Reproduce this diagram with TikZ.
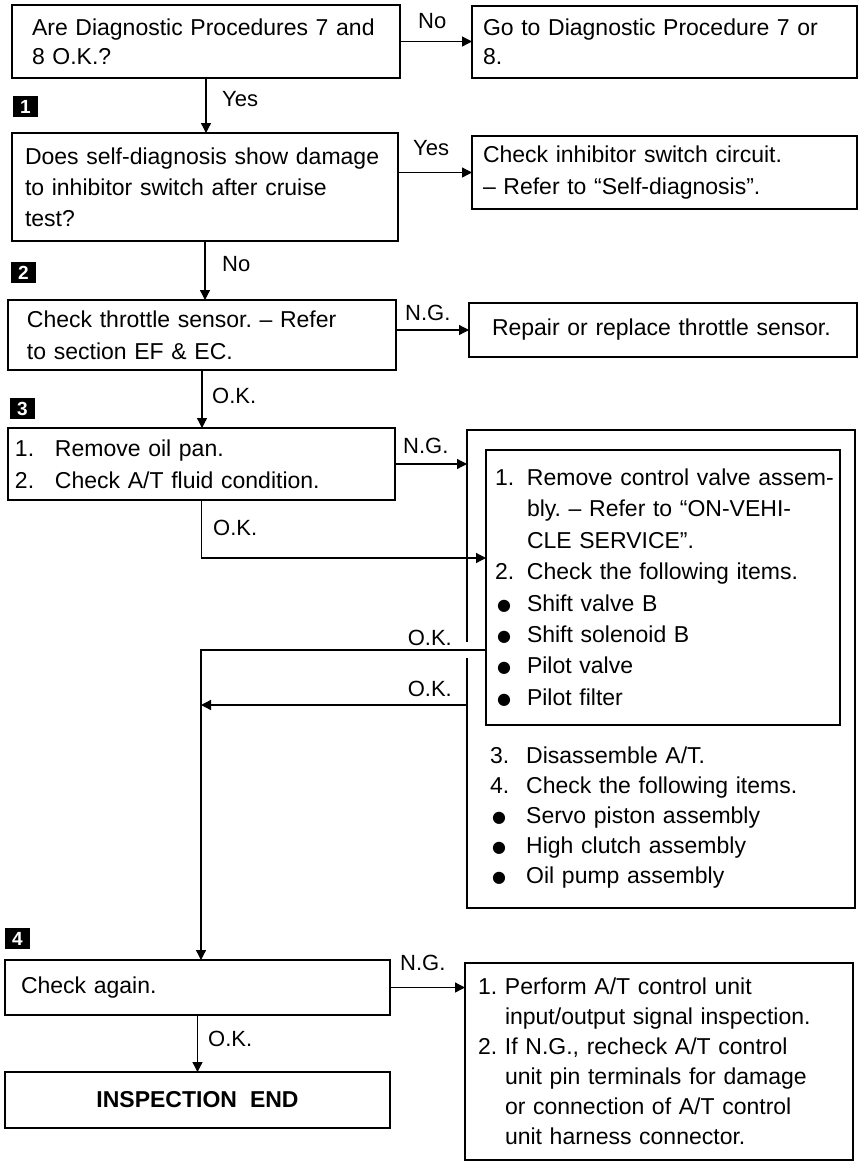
\documentclass[tikz,border=0pt]{standalone}
\usepackage{fontspec}
\setmainfont{Liberation Sans}
\newfontfamily\sym{DejaVu Sans}
\usetikzlibrary{arrows.meta}
\frenchspacing
\newlength\hw
\newcommand\nm[1]{\makebox[\hw][l]{#1}}
\newcommand\hg{\hspace*{\hw}}
\newcommand\bl{\makebox[\hw][l]{\hspace*{2pt}\raisebox{1pt}{\sym\fontsize{16}{16}\selectfont ●}}}
\begin{document}
\begin{tikzpicture}[x=1pt,y=-1pt,
  box/.style={draw, line width=1.4pt, inner ysep=0pt, outer sep=0pt, anchor=north west, align=left, font=\fontsize{23}{31}\selectfont},
  stepmark/.style={fill=black, text=white, font=\bfseries\fontsize{19}{19}\selectfont, minimum width=25, minimum height=21, inner sep=0pt, outer sep=0pt, anchor=north west},
  lbl/.style={font=\fontsize{22}{22}\selectfont, inner sep=0pt, anchor=base west},
  arr/.style={line width=1.3pt, -{Triangle[length=10pt,width=10pt]}},
  frame/.style={line width=1.4pt}]

\path[use as bounding box, fill=white] (0,0) rectangle (858,1168);

% boxes
\node[box, minimum width=388, minimum height=73, inner xsep=20, text width=348, font=\fontsize{23}{29}\selectfont] (A) at (12,5) {Are Diagnostic Procedures 7 and\\8 O.K.?};
\node[box, minimum width=385, minimum height=72, inner xsep=11, text width=363, font=\fontsize{23}{29}\selectfont] (B) at (472,6) {Go to Diagnostic Procedure 7 or\\8.};
\node[box, minimum width=386, minimum height=108, inner xsep=13, text width=360] (C) at (12,133) {Does self-diagnosis show damage\\to inhibitor switch after cruise\\test?};
\node[box, minimum width=385, minimum height=73, inner xsep=11, text width=363, font=\fontsize{23}{32}\selectfont] (D) at (472,136) {Check inhibitor switch circuit.\\– Refer to “Self-diagnosis”.};
\node[box, minimum width=388, minimum height=70, inner xsep=19, text width=350, font=\fontsize{23}{32}\selectfont] (E) at (8,300) {Check throttle sensor. – Refer\\to section EF \& EC.};
\node[box, minimum width=388, minimum height=54, inner xsep=23, text width=342] (F) at (469,303) {Repair or replace throttle sensor.};
\node[box, minimum width=387, minimum height=72, inner xsep=7, text width=373, font=\fontsize{23}{32}\selectfont] (G) at (8,428) {\setlength\hw{40pt}\nm{1.}Remove oil pan.\\\nm{2.}Check A/T fluid condition.};
\node[minimum width=388, minimum height=478, inner sep=0pt, outer sep=0pt, anchor=north west] (H) at (467,430) {};
\node[box, minimum width=354, minimum height=275, inner xsep=9, text width=336, font=\fontsize{23}{31.4}\selectfont] (I) at (486,450) {\setlength\hw{32pt}\nm{1.}\mbox{Remove control valve assem-}\\\hg bly. – Refer to “ON-VEHI-\\\hg CLE SERVICE”.\\\nm{2.}Check the following items.\\\bl Shift valve B\\\bl Shift solenoid B\\\bl Pilot valve\\\bl Pilot filter};
\node[anchor=west, align=left, inner sep=0pt, text width=350, font=\fontsize{23}{30}\selectfont] (Hlist) at (490,817.5) {\setlength\hw{36pt}\nm{3.}Disassemble A/T.\\\nm{4.}Check the following items.\\\bl Servo piston assembly\\\bl High clutch assembly\\\bl Oil pump assembly};
\node[box, minimum width=385, minimum height=55, inner xsep=16, text width=353] (J) at (5,960) {Check again.};
\node[box, minimum width=385, minimum height=56, inner xsep=16, text width=353, align=center, font=\bfseries\fontsize{23}{27}\selectfont] (K) at (5,1072) {INSPECTION\hspace{13pt}END};
\node[box, minimum width=388, minimum height=197, inner xsep=13, text width=362, font=\fontsize{23}{30}\selectfont] (L) at (465,963) {\setlength\hw{27pt}\nm{1.}Perform A/T control unit\\\hg input/output signal inspection.\\\nm{2.}If N.G., recheck A/T control\\\hg unit pin terminals for damage\\\hg or connection of A/T control\\\hg unit harness connector.};

% outer frame with a gap where the O.K. line passes
\path (H.west |- 0,650) ++(0,-8) coordinate (gT);
\path (H.west |- 0,650) ++(0,8) coordinate (gB);
\draw[frame] (gT) -- (H.north west) -- (H.north east) -- (H.south east) -- (H.south west) -- (gB);

% step markers
\node[stepmark] (m1) at (13,96) {1};
\node[stepmark] (m2) at (11,262) {2};
\node[stepmark] (m3) at (10,398) {3};
\node[stepmark] (m4) at (5,928) {4};

% connectors
\draw[arr] (A.east) -- (A.east -| B.west);
\draw[arr] (A.south) -- (A.south |- C.north);
\draw[arr] (C.east |- D.west) -- (D.west);
\draw[arr] (C.south) -- (C.south |- E.north);
\draw[arr] (E.east |- F.west) -- (F.west);
\draw[arr] (E.south) -- (E.south |- G.north);
\draw[arr] (G.east) -- (G.east -| H.west);
\coordinate (okG) at (0,558);
\draw[arr] (G.south) |- (I.west |- okG);
\coordinate (okA) at (201,650);
\coordinate (okB) at (201,705);
\draw[arr] (I.west |- okA) -- (okA) -- (okA |- J.north);
\draw[arr] (H.west |- okB) -- (okB);
\draw[arr] (J.south) -- (J.south |- K.north);
\draw[arr] (J.east) -- (J.east -| L.west);

% labels
\node[lbl] (l1) at (418,28) {No};
\node[lbl] (l2) at (222,106) {Yes};
\node[lbl] (l3) at (413,155) {Yes};
\node[lbl] (l4) at (222,271) {No};
\node[lbl] (l5) at (405,320) {N.G.};
\node[lbl] (l6) at (212,403) {O.K.};
\node[lbl] (l7) at (403,453) {N.G.};
\node[lbl] (l8) at (213,535) {O.K.};
\node[lbl, anchor=base east] (l9) at (452,645) {O.K.};
\node[lbl, anchor=base east] (l10) at (452,696) {O.K.};
\node[lbl] (l11) at (400,970) {N.G.};
\node[lbl] (l12) at (208,1046) {O.K.};
\end{tikzpicture}
\end{document}
